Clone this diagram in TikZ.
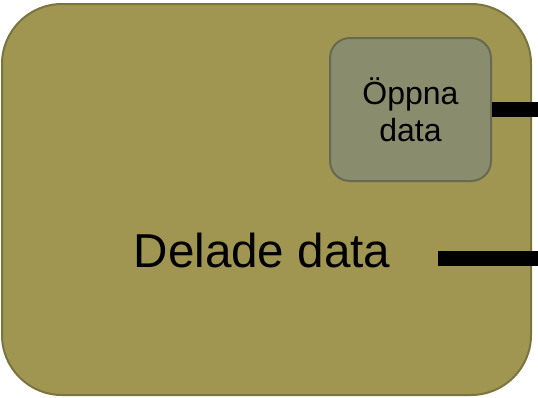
\documentclass[tikz,border=0pt]{standalone}
\usepackage{fontspec}
\setmainfont{Liberation Sans}

\definecolor{sharedfill}{RGB}{160,150,82}
\definecolor{shareddraw}{RGB}{122,116,62}
\definecolor{openfill}{RGB}{138,140,110}
\definecolor{opendraw}{RGB}{102,106,80}

\tikzset{every picture/.style={line width=0.75pt}}
\tikzset{
  sharedbox/.style={draw=shareddraw, fill=sharedfill, line width=1.5pt, rounded corners=45pt,
    minimum width=396.75pt, minimum height=293.25pt, inner sep=0pt},
  openbox/.style={draw=opendraw, fill=openfill, line width=1.5pt, rounded corners=15pt,
    minimum width=120.75pt, minimum height=107.25pt, inner sep=0pt, align=center,
    font=\fontsize{24}{27.75}\selectfont},
  bigtext/.style={font=\fontsize{35.7}{42}\selectfont, inner sep=0pt},
  bar/.style={line width=11.25pt, line cap=butt}
}

\begin{document}
\begin{tikzpicture}[x=0.75pt,y=0.75pt,yscale=-1,xscale=1]
\useasboundingbox (0,0) rectangle (538,397);

%Shape: Rounded Rect [shared data]
\node[sharedbox] (shared) at (266.5,199.5) {};
%Text Node
\node[bigtext, anchor=base] (sharedlabel) at (262,267) {Delade data};

%Shape: Rounded Rect [open data]
\node[openbox] (open) at (410.5,109.5) {Öppna\\data};

%Straight Lines
\coordinate (openend) at (538,109.5);
\draw[bar] (open.east) -- (openend);
%Straight Lines
\coordinate (sharedstart) at (438,258);
\coordinate (sharedend) at (538,258);
\draw[bar] (sharedstart) -- (sharedend);

\end{tikzpicture}
\end{document}
